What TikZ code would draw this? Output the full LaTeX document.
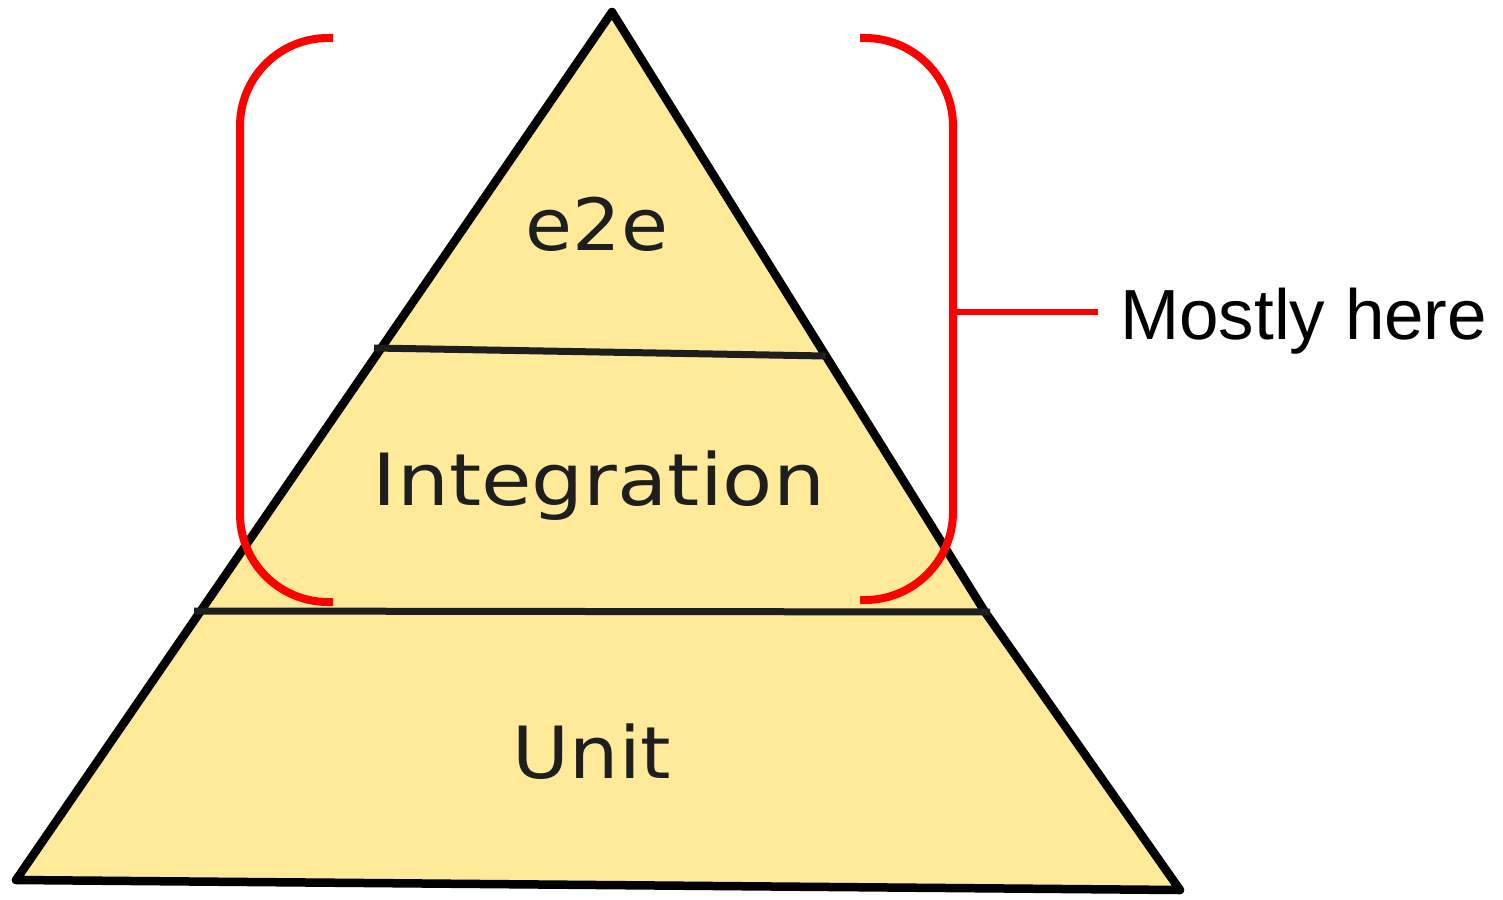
\documentclass[tikz,border=0pt]{standalone}
\usepackage{fontspec}
\usepackage{graphicx}
\setmainfont{Liberation Sans}
\newfontfamily\labelfont{DejaVu Sans}
\definecolor{pyrfill}{HTML}{FFEA99}
\definecolor{ink}{HTML}{1E1E1E}
\definecolor{brk}{HTML}{FF0000}
\tikzset{
  pyredge/.style={draw=black, line width=8.5pt, line join=round, fill=pyrfill},
  divider/.style={draw=ink, line width=7pt},
  bracket/.style={draw=brk, line width=8pt, rounded corners=88pt},
  tierlabel/.style={inner sep=0pt, anchor=base, text=ink, font=\labelfont\fontsize{72}{80}\selectfont},
  notelabel/.style={inner sep=0pt, anchor=base west, text=black, font=\fontsize{71}{80}\selectfont}
}
\begin{document}
\begin{tikzpicture}[x=1pt,y=-1pt]
\useasboundingbox (0,0) rectangle (1503,899);
% pyramid corners
\coordinate (apex) at (612,12);
\coordinate (rmid) at (985,612);
\coordinate (br) at (1180,890);
\coordinate (bl) at (16,880);
\path[pyredge] (apex) -- (rmid) -- (br) -- (bl) -- cycle;
% dividers
\coordinate (d1l) at (374,348);
\coordinate (d1r) at (826,356);
\coordinate (d2l) at (194,611);
\coordinate (d2r) at (990,612);
\draw[divider] (d1l) -- (d1r);
\draw[divider] (d2l) -- (d2r);
% labels
\node[tierlabel] (e2e) at (597,250) {\scalebox{1.06}[1]{e2e}};
\node[tierlabel] (integ) at (599,505) {\scalebox{1.14}[1]{Integration}};
\node[tierlabel] (unit) at (592,778) {\scalebox{1.08}[1]{Unit}};
% brackets
\draw[bracket] (333,38) -- (240,38) -- (240,602) -- (333,602);
\draw[bracket] (860,38) -- (953,38) -- (953,600) -- (860,600);
% note
\node[notelabel] (mh) at (1120,339) {Mostly here};
\coordinate (rb) at (953,312);
\draw[draw=brk, line width=6.5pt] (rb) -- ([xshift=-22pt]rb -| mh.west);
\end{tikzpicture}
\end{document}
